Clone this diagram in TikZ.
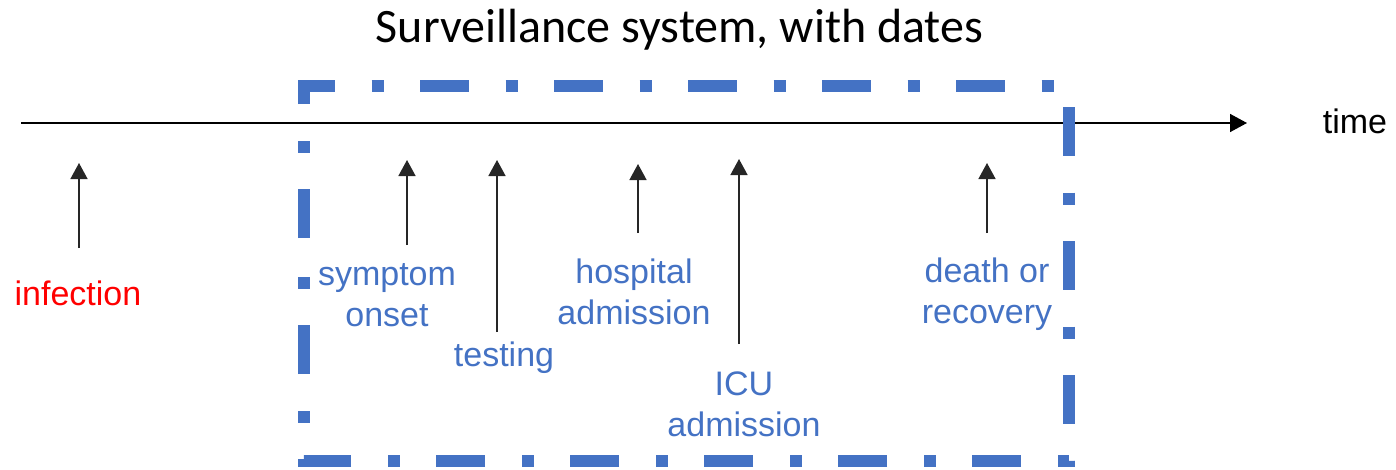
\documentclass[tikz,border=0pt]{standalone}
\usepackage{fontspec}
\setmainfont{Liberation Sans}
\newfontfamily\titlefont{Carlito}
\usetikzlibrary{arrows.meta}
\definecolor{obl}{HTML}{4472C4}
\definecolor{ored}{HTML}{FF0000}
\begin{document}
\begin{tikzpicture}[x=1pt,y=-1pt,
  lbl/.style={font=\fontsize{34}{41}\selectfont, text=obl, align=center, inner sep=0pt, anchor=base},
  evarrow/.style={-{Triangle[length=16pt,width=17pt]}, line width=1.5pt, black!85},
  timearrow/.style={-{Triangle[length=17pt,width=18pt]}, line width=1.5pt, black},
  survbox/.style={draw=obl, line width=12pt, dash pattern=on 49pt off 36.5pt on 12pt off 36.5pt, dash phase=98.5pt, line join=miter}]
\useasboundingbox (0,0) rectangle (1396,469);

% title
\node[inner sep=0pt, anchor=base, font=\titlefont\fontsize{48}{56}\selectfont] (title) at (679.5,42) {Surveillance system, with dates};

% timeline
\coordinate (t0) at (21,123);
\coordinate (t1) at (1247,123);
\draw[timearrow] (t0) -- (t1);
\node[lbl, text=black] (time) at (1355,133) {time};

% event arrows
\coordinate (a1s) at (79,248);  \coordinate (a1e) at (79,163);
\coordinate (a2s) at (407,245); \coordinate (a2e) at (407,160);
\coordinate (a3s) at (497,332); \coordinate (a3e) at (497,160);
\coordinate (a4s) at (638,233); \coordinate (a4e) at (638,164);
\coordinate (a5s) at (739,344); \coordinate (a5e) at (739,159);
\coordinate (a6s) at (987,233); \coordinate (a6e) at (987,163);
\draw[evarrow] (a1s) -- (a1e);
\draw[evarrow] (a2s) -- (a2e);
\draw[evarrow] (a3s) -- (a3e);
\draw[evarrow] (a4s) -- (a4e);
\draw[evarrow] (a5s) -- (a5e);
\draw[evarrow] (a6s) -- (a6e);

% labels (base anchor = baseline of the last line)
\node[lbl, text=ored] (inf) at (78,305) {infection};
\node[lbl] (sym) at (387,326) {symptom\\onset};
\node[lbl] (test) at (504,366) {testing};
\node[lbl] (hosp) at (634,324) {hospital\\admission};
\node[lbl] (icu) at (744,436) {ICU\\admission};
\node[lbl] (dor) at (987,323) {death or\\recovery};

% surveillance box
\coordinate (b0) at (304,273.5);
\coordinate (b1) at (304,86);
\coordinate (b2) at (1069,86);
\coordinate (b3) at (1069,461);
\coordinate (b4) at (304,461);
\draw[survbox] (b0) -- (b1) -- (b2) -- (b3) -- (b4) -- cycle;
\end{tikzpicture}
\end{document}
